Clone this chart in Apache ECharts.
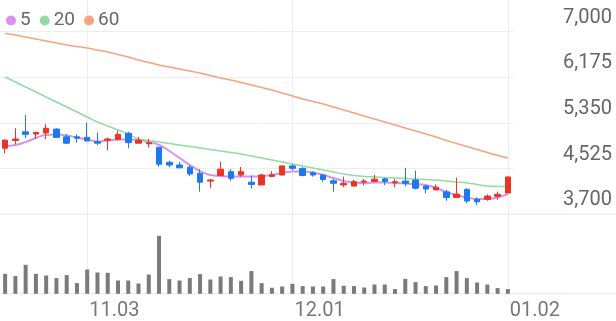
<!DOCTYPE html>
<html><head><meta charset="utf-8">
<script src="https://cdn.jsdelivr.net/npm/echarts@6/dist/echarts.min.js"></script>
<style>html,body{margin:0;padding:0;background:#fff}#c{width:616px;height:321px}</style>
</head><body><div id="c"></div>
<script>
const dates = ['10.22','10.23','10.24','10.27','10.28','10.29','10.30','10.31','11.03','11.04','11.05','11.06','11.07','11.10','11.11','11.12','11.13','11.14','11.17','11.18','11.19','11.20','11.21','11.24','11.25','11.26','11.27','11.28','12.01','12.02','12.03','12.04','12.05','12.08','12.09','12.10','12.11','12.12','12.15','12.16','12.17','12.18','12.19','12.22','12.23','12.24','12.26','12.29','12.30','01.02'];
const opens  = [4895,5035,5190,5150,5170,5240,5100,5100,5090,5010,5040,5055,5165,4985,4975,4910,4640,4590,4550,4440,4300,4400,4470,4410,4280,4230,4385,4410,4575,4530,4450,4410,4305,4230,4210,4285,4295,4340,4270,4300,4320,4210,4140,4105,4005,4150,3970,3970,4025,4085];
const closes = [5040,5060,5145,5180,5255,5090,4985,5075,5025,4985,5060,5145,4995,5040,4995,4605,4590,4540,4430,4280,4320,4515,4350,4470,4240,4410,4415,4575,4530,4400,4410,4330,4260,4260,4290,4300,4335,4295,4290,4260,4170,4155,4190,4005,4065,3940,3925,4030,4060,4375];
const lows   = [4800,4965,5075,5065,5060,5090,4970,4995,5025,4950,4860,5030,4895,4985,4905,4560,4550,4540,4390,4110,4180,4400,4305,4380,4165,4230,4370,4405,4500,4390,4380,4290,4110,4190,4210,4225,4290,4230,4190,4210,4150,4080,4140,3945,4005,3900,3865,3945,3965,4085];
const highs  = [5055,5255,5495,5190,5330,5255,5145,5145,5360,5180,5085,5210,5190,5100,5060,4920,4670,4650,4590,4515,4340,4650,4515,4555,4400,4430,4480,4575,4605,4550,4480,4430,4340,4380,4320,4340,4410,4360,4335,4540,4490,4230,4240,4140,4360,4170,4005,4060,4110,4375];
const volumes = [200000,177000,290000,200000,183000,157000,187000,107000,243000,213000,210000,133000,133000,103000,193000,580000,147000,133000,157000,197000,143000,173000,167000,130000,227000,107000,60000,73000,100000,77000,73000,73000,147000,80000,77000,63000,93000,93000,47000,150000,117000,77000,83000,167000,227000,157000,113000,93000,57000,47000];
const ma5  = [4934,4952,5006,5079,5133,5142,5124,5088,5052,5016,5034,5052,5052,5043,5006,4952,4844,4717,4591,4482,4410,4392,4383,4383,4383,4392,4410,4446,4473,4473,4455,4410,4356,4302,4275,4266,4275,4275,4266,4257,4248,4229,4175,4103,4049,4004,3976,3976,4004,4067];
const ma20 = [6181,6091,6000,5910,5820,5729,5639,5549,5458,5368,5296,5223,5151,5061,5034,5006,4979,4952,4925,4898,4871,4844,4817,4790,4754,4717,4681,4645,4609,4573,4537,4500,4464,4428,4401,4383,4374,4365,4356,4347,4338,4329,4320,4302,4284,4266,4238,4211,4202,4202];
const ma60 = [6967,6940,6904,6868,6832,6795,6759,6732,6705,6669,6633,6588,6542,6488,6443,6398,6362,6326,6289,6253,6208,6163,6127,6082,6036,5991,5946,5892,5838,5783,5738,5693,5639,5585,5530,5476,5422,5368,5314,5259,5205,5151,5097,5034,4979,4925,4871,4817,4762,4717];
const priceTicks = [3700,4525,5350,6175,7000];
const labelIdx = ['11.03','12.01','01.02'];

const RED = '#ec3324', BLUE = '#1c79ee';
const candleData = dates.map((d,i)=>[opens[i],closes[i],lows[i],highs[i]]);
const showIdx = (i)=>labelIdx.indexOf(dates[i])>=0;

const chart = echarts.init(document.getElementById('c'), null, {renderer:'canvas'});
chart.setOption({
  animation:false,
  textStyle:{fontFamily:'Roboto'},
  legend:{
    data:['5','20','60'], left:1, top:6, icon:'circle', itemWidth:10, itemHeight:10, itemGap:9,
    textStyle:{fontSize:19,color:'#666',fontFamily:'Roboto', padding:[0,0,0,-1]}
  },
  graphic:[
    {type:'line', shape:{x1:0,y1:214.3,x2:616,y2:214.3}, style:{stroke:'#e8e8e8',lineWidth:1}, silent:true, z:0},
    {type:'line', shape:{x1:0,y1:293.8,x2:616,y2:293.8}, style:{stroke:'#e8e8e8',lineWidth:1}, silent:true, z:0}
  ],
  grid:[
    {left:0, right:103, top:31.7, height:182.6},
    {left:0, right:103, top:229.8, height:64},
    {left:5.13, right:108.13, top:0, height:293.8}
  ],
  xAxis:[
    {type:'category', gridIndex:0, data:dates, boundaryGap:true, show:false},
    {type:'category', gridIndex:1, data:dates, boundaryGap:true, show:false},
    {type:'category', gridIndex:2, data:dates, boundaryGap:false,
     axisLine:{show:false}, axisTick:{show:false},
     splitLine:{show:true, interval:(i)=>showIdx(i), lineStyle:{color:'#eeeeee',width:1}},
     axisLabel:{interval:(i)=>showIdx(i), align:'left', verticalAlign:'top', margin:7, fontSize:20, lineHeight:20,
       color:'#777', fontFamily:'Roboto', padding:[0,0,0,2], hideOverlap:false}}
  ],
  yAxis:[
    {type:'value', gridIndex:0, min:3700, max:7000, show:false, splitLine:{show:false}},
    {type:'value', gridIndex:0, position:'right', min:0, max:4, interval:1,
     axisLine:{show:false}, axisTick:{show:false},
     splitLine:{show:true, lineStyle:{color:'#eeeeee',width:1}},
     axisLabel:{formatter:(v)=>priceTicks[v]!==undefined?priceTicks[v].toLocaleString('en-US'):'',
       align:'right', verticalAlign:'bottom', margin:99, fontSize:20, lineHeight:20, padding:[0,0,4,0],
       color:'#666', fontFamily:'Roboto'}},
    {type:'value', gridIndex:1, min:0, max:640000, show:false, splitLine:{show:false}},
    {type:'value', gridIndex:2, show:false, splitLine:{show:false}}
  ],
  series:[
    {name:'price', type:'candlestick', xAxisIndex:0, yAxisIndex:0, data:candleData, barWidth:6,
     itemStyle:{color:RED, color0:BLUE, borderColor:RED, borderColor0:BLUE, borderWidth:1}, z:3},
    {name:'5', type:'line', xAxisIndex:0, yAxisIndex:0, data:ma5, smooth:true, showSymbol:false,
     lineStyle:{color:'#d692ec', width:2}, itemStyle:{color:'#d692ec'}, z:2},
    {name:'20', type:'line', xAxisIndex:0, yAxisIndex:0, data:ma20, smooth:true, showSymbol:false,
     lineStyle:{color:'#92dba2', width:1.5}, itemStyle:{color:'#92dba2'}, z:2},
    {name:'60', type:'line', xAxisIndex:0, yAxisIndex:0, data:ma60, smooth:true, showSymbol:false,
     lineStyle:{color:'#f8a27e', width:1.5}, itemStyle:{color:'#f8a27e'}, z:2},
    {name:'vol', type:'bar', xAxisIndex:1, yAxisIndex:2, data:volumes, barWidth:4,
     itemStyle:{color:'#7a7a7a'}}
  ]
});
</script></body></html>
